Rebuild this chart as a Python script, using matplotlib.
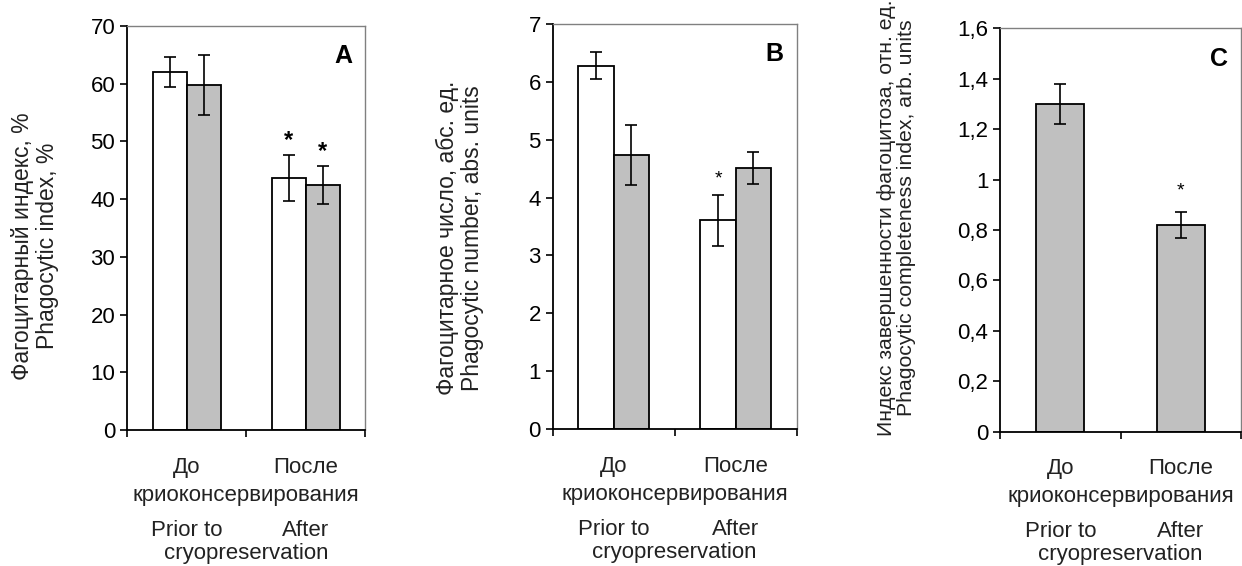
import matplotlib
matplotlib.use("Agg")
import matplotlib.pyplot as plt
from matplotlib.ticker import FuncFormatter

plt.rcParams['font.family'] = ['Liberation Sans', 'DejaVu Sans']

# data
groups = [0.5, 1.5]
a_white = [62.0, 43.7]
a_white_err = [2.6, 4.0]
a_gray = [59.7, 42.5]
a_gray_err = [5.2, 3.3]

b_white = [6.28, 3.61]
b_white_err = [0.23, 0.44]
b_gray = [4.73, 4.51]
b_gray_err = [0.52, 0.27]

c_gray = [1.30, 0.82]
c_gray_err = [0.08, 0.05]

ylabels = [
    "Фагоцитарный индекс, %\nPhagocytic index, %",
    "Фагоцитарное число, абс. ед.\nPhagocytic number, abs. units",
    "Индекс завершенности фагоцитоза, отн. ед.\nPhagocytic completeness index, arb. units",
]
letters = ["A", "B", "C"]
xlab_ru = ["До", "После"]
xlab_ru2 = "криоконсервирования"
xlab_en = ["Prior to", "After"]
xlab_en2 = "cryopreservation"

GRAY = "#c0c0c0"
FS = 16

fig = plt.figure(figsize=(12.42, 5.66), dpi=100)
axA = fig.add_axes([0.1023, 0.2403, 0.1916, 0.7138])
axB = fig.add_axes([0.4450, 0.2420, 0.1965, 0.7156])
axC = fig.add_axes([0.8052, 0.2373, 0.1940, 0.7127])

err_kw = dict(ecolor="black", elinewidth=1.2, capsize=4.5, capthick=1.2)


def star(ax, x, top, size, bold, off):
    ax.annotate("*", (x, top), xytext=(0, off), textcoords="offset points",
                ha="center", va="bottom", fontsize=size,
                fontweight="bold" if bold else "normal")


def style(ax, ymax, step, fmt, label, letter, ylab_xy, ylab_fs):
    ax.set_xlim(0, 2)
    ax.set_ylim(0, ymax)
    ticks = [i * step for i in range(int(round(ymax / step)) + 1)]
    ax.set_yticks(ticks)
    ax.yaxis.set_major_formatter(FuncFormatter(fmt))
    ax.set_xticks([0, 1, 2])
    ax.set_xticklabels([])
    ax.tick_params(axis="both", direction="out", length=5, width=1.2,
                   labelsize=FS, colors="black")
    for s in ["left", "bottom"]:
        ax.spines[s].set_linewidth(1.3)
    for s in ["top", "right"]:
        ax.spines[s].set_color("#808080")
        ax.spines[s].set_linewidth(1.0)
    ax.text(0.91, 0.925, letter, transform=ax.transAxes, ha="center", va="center",
            fontsize=18, fontweight="bold")
    tr = ax.get_xaxis_transform()
    for x, ru, en in zip(groups, xlab_ru, xlab_en):
        ax.text(x, -0.092, ru, transform=tr, ha="center", va="center", fontsize=FS, color="#222222")
        ax.text(x, -0.248, en, transform=tr, ha="center", va="center", fontsize=FS, color="#222222")
    ax.text(1, -0.161, xlab_ru2, transform=tr, ha="center", va="center", fontsize=FS, color="#222222")
    ax.text(1, -0.305, xlab_en2, transform=tr, ha="center", va="center", fontsize=FS, color="#222222")
    fig.text(ylab_xy[0], ylab_xy[1], label, rotation=90, ha="center", va="center",
             fontsize=ylab_fs, linespacing=1.1, color="#222222")


w = 0.286
wa = [g - w / 2 for g in groups]
ga = [g + w / 2 for g in groups]

axA.bar(wa, a_white, w, yerr=a_white_err, color="white", edgecolor="black", linewidth=1.3, error_kw=err_kw)
axA.bar(ga, a_gray, w, yerr=a_gray_err, color=GRAY, edgecolor="black", linewidth=1.3, error_kw=err_kw)
star(axA, wa[1], a_white[1] + a_white_err[1], 17, True, 2)
star(axA, ga[1], a_gray[1] + a_gray_err[1], 17, True, 2)
style(axA, 70, 10, lambda v, p: f"{v:g}", ylabels[0], letters[0], (0.028, 0.565), 16.5)

wb = 0.29
wbx = [g - wb / 2 for g in groups]
gbx = [g + wb / 2 for g in groups]
axB.bar(wbx, b_white, wb, yerr=b_white_err, color="white", edgecolor="black", linewidth=1.3, error_kw=err_kw)
axB.bar(gbx, b_gray, wb, yerr=b_gray_err, color=GRAY, edgecolor="black", linewidth=1.3, error_kw=err_kw)
star(axB, wbx[1], b_white[1] + b_white_err[1], 14, False, 5)
style(axB, 7, 1, lambda v, p: f"{v:g}", ylabels[1], letters[1], (0.370, 0.58), 16.5)

axC.bar(groups, c_gray, 0.40, yerr=c_gray_err, color=GRAY, edgecolor="black", linewidth=1.3, error_kw=err_kw)
star(axC, groups[1], c_gray[1] + c_gray_err[1], 14, False, 9)
style(axC, 1.6, 0.2, lambda v, p: f"{v:g}".replace(".", ","), ylabels[2], letters[2], (0.722, 0.615), 15.3)

fig.savefig("out.png", dpi=100)
